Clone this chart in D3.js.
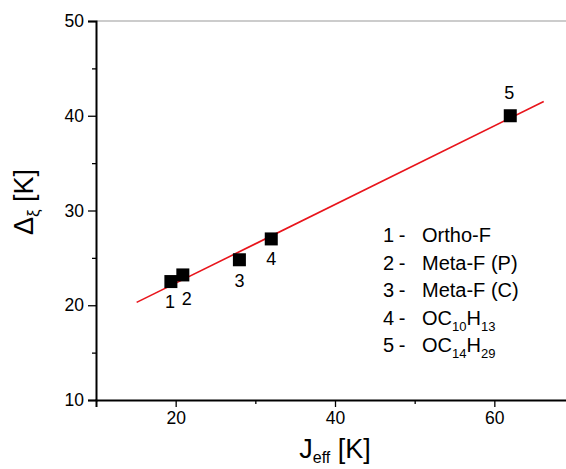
<!DOCTYPE html>
<html><head><meta charset="utf-8">
<script src="https://cdn.jsdelivr.net/npm/d3@7"></script>
<style>
html,body{margin:0;padding:0;background:#fff;}
svg{display:block;font-family:"Liberation Sans",Arial,sans-serif;}
</style></head>
<body><svg id="c" width="566" height="469"></svg>
<script>
const jeff = [19.4, 20.9, 28.0, 32.0, 62.0];
const delta = [22.5, 23.2, 24.8, 27.0, 40.0];
const pointLabels = ["1", "2", "3", "4", "5"];
const fitX = [15.1, 66.2];
const fitY = [20.3, 41.5];
const legendNums = ["1", "2", "3", "4", "5"];
const legendNames = [
  [["Ortho-F", false]],
  [["Meta-F (P)", false]],
  [["Meta-F (C)", false]],
  [["OC", false], ["10", true], ["H", false], ["13", true]],
  [["OC", false], ["14", true], ["H", false], ["29", true]]
];
const xMajor = [20, 40, 60];
const xMinor = [30, 50];
const yMajor = [10, 20, 30, 40, 50];
const yMinor = [15, 25, 35, 45];

const svg = d3.select("#c");
const x = d3.scaleLinear().domain([10, 70]).range([96, 574]);
const y = d3.scaleLinear().domain([10, 50]).range([400, 21]);

// top frame
svg.append("line").attr("x1", 96).attr("x2", 574).attr("y1", y(50)).attr("y2", y(50))
  .attr("stroke", "#999").attr("stroke-width", 1);

// y axis
svg.append("g").attr("transform", "translate(96,0)")
  .call(d3.axisLeft(y).tickValues(yMajor).tickSize(8).tickPadding(4).tickFormat(d3.format("d")));
svg.append("g").attr("transform", "translate(96,0)")
  .call(d3.axisLeft(y).tickValues(yMinor).tickSize(4).tickFormat(""))
  .select(".domain").remove();
// x axis
svg.append("g").attr("transform", "translate(0,400)")
  .call(d3.axisBottom(x).tickValues(xMajor).tickSize(7).tickPadding(5).tickFormat(d3.format("d")));
svg.append("g").attr("transform", "translate(0,400)")
  .call(d3.axisBottom(x).tickValues(xMinor).tickSize(4).tickFormat(""))
  .select(".domain").remove();
svg.selectAll(".domain").attr("stroke", "#000").attr("stroke-width", 2);
svg.selectAll(".tick line").attr("stroke", "#000").attr("stroke-width", 1.3);
svg.selectAll(".tick text").attr("font-size", 17.5).attr("fill", "#000")
  .attr("font-family", "Liberation Sans, Arial, sans-serif");

// fit line
svg.append("line")
  .attr("x1", x(fitX[0])).attr("y1", y(fitY[0]))
  .attr("x2", x(fitX[1])).attr("y2", y(fitY[1]))
  .attr("stroke", "#e8141b").attr("stroke-width", 1.6);

// points
const s = 13;
svg.selectAll("rect.pt").data(jeff).enter().append("rect").attr("class", "pt")
  .attr("x", (d) => x(d) - s / 2)
  .attr("y", (d, i) => y(delta[i]) - s / 2)
  .attr("width", s).attr("height", s).attr("fill", "#000");

// point labels
const lblOff = [[-1, 26.5], [4, 30], [0, 27.3], [0, 26], [-1, -16.7]];
svg.selectAll("text.pl").data(pointLabels).enter().append("text").attr("class", "pl")
  .attr("x", (d, i) => x(jeff[i]) + lblOff[i][0])
  .attr("y", (d, i) => y(delta[i]) + lblOff[i][1])
  .attr("text-anchor", "middle")
  .attr("font-size", 18).attr("fill", "#000").text((d) => d);

// legend
const lg = svg.append("g");
legendNums.forEach((n, i) => {
  const yy = 242 + i * 27.5;
  lg.append("text").attr("x", 383).attr("y", yy).attr("font-size", 20).text(n);
  lg.append("text").attr("x", 402).attr("y", yy).attr("font-size", 20).attr("text-anchor", "middle").text("-");
  const t = lg.append("text").attr("x", 422).attr("y", yy).attr("font-size", 20);
  legendNames[i].forEach(([str, sub], k) => {
    if (sub) t.append("tspan").attr("font-size", 13).attr("dy", 6).text(str);
    else t.append("tspan").attr("dy", k ? -6 : 0).text(str);
  });
});

// axis titles
const xt = svg.append("text").attr("x", 335).attr("y", 458).attr("text-anchor", "middle").attr("font-size", 27);
xt.append("tspan").text("J");
xt.append("tspan").attr("font-size", 16).attr("dy", 5).text("eff");
xt.append("tspan").attr("dy", -5).text(" [K]");

const yt = svg.append("text").attr("transform", "translate(33,202) rotate(-90)")
  .attr("text-anchor", "middle").attr("font-size", 27);
yt.append("tspan").text("Δ");
yt.append("tspan").attr("font-size", 17).attr("dy", 6).text("ξ");
yt.append("tspan").attr("dy", -6).text(" [K]");
</script></body></html>
